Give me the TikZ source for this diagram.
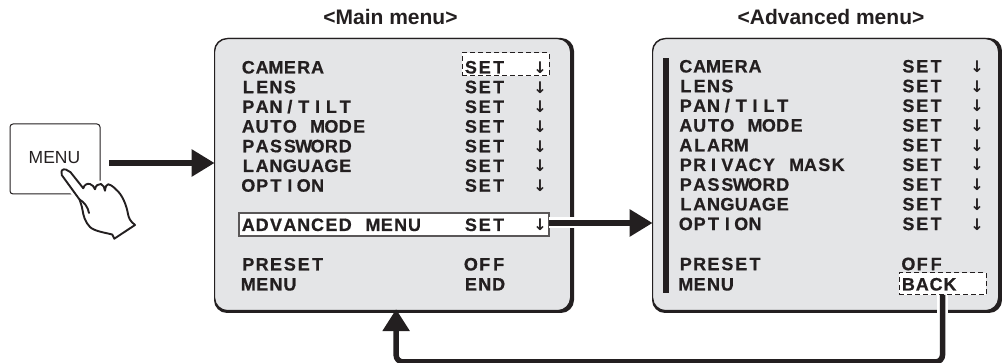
\documentclass[tikz,border=0pt]{standalone}
\usepackage{fontspec}
\setmainfont{Liberation Sans}
\newfontfamily\arrowfont{DejaVu Sans}
\usetikzlibrary{arrows.meta}
\definecolor{ink}{HTML}{231F20}
\definecolor{panelgray}{HTML}{E4E5E7}
\makeatletter
\newcommand\monotext[1]{\@tfor\mtk:=#1\do{\makebox[13.85pt][c]{\mtk}}}
\makeatother
\tikzset{
  panelbox/.style={draw=ink,line width=1.2pt,fill=panelgray,rounded corners=13pt,inner sep=0pt,outer sep=0pt,anchor=north west},
  rowtext/.style={anchor=base west,inner sep=0pt,outer sep=0pt,text=ink,font=\bfseries\addfontfeature{FakeBold=0.6}\fontsize{18}{18}\selectfont},
  downarrow/.style={anchor=base,inner sep=0pt,outer sep=0pt,text=ink,font=\arrowfont\bfseries\fontsize{16}{16}\selectfont},
  titletext/.style={anchor=base,inner sep=0pt,text=ink,font=\bfseries\fontsize{21}{21}\selectfont},
  dashbox/.style={draw=ink,line width=1pt,dash pattern=on 5pt off 3pt,fill=white,inner sep=0pt,outer sep=0pt,anchor=north west},
  solidbox/.style={draw=ink!75,line width=1.1pt,fill=white,inner sep=0pt,outer sep=0pt,anchor=north west},
  bigarrow/.style={draw=ink,line width=6pt,-{Triangle[length=23pt,width=26pt]}},
  halo/.style={draw=white,line width=11pt},
}
\newcommand\menurow[5]{\node[rowtext] (#1) at (#2+0.4,#3-0.5) {\monotext{#4}};\node[rowtext] (#1s) at (#2+223,#3-0.5) {\monotext{#5}};}
\newcommand\menuarrow[3]{\node[downarrow] (#1) at (#2,#3-0.5) {↓};}
\begin{document}
\begin{tikzpicture}[x=1pt,y=-1pt]
\useasboundingbox (0,0) rectangle (1002,363);
% panels
\fill[ink,rounded corners=13pt] (214,38) rectangle (574,313);
\node[panelbox,minimum width=356pt,minimum height=272pt] (mainp) at (214.6,38.6) {};
\fill[ink,rounded corners=13pt] (652,38) rectangle (1002,313);
\node[panelbox,minimum width=346pt,minimum height=272pt] (advp) at (652.6,38.6) {};
% titles
\node[titletext] (t1) at (390.5,25) {<Main menu>};
\node[titletext] (t2) at (831,25) {<Advanced menu>};
% highlight boxes
\node[dashbox,minimum width=87pt,minimum height=23pt] (setbox) at (462,53) {};
\node[solidbox,minimum width=310pt,minimum height=23pt] (advbox) at (239,213) {};
\node[dashbox,minimum width=87pt,minimum height=22pt] (backbox) at (899,273) {};
% bar
\fill[ink] (663,58) rectangle (668.5,293);
% main rows
\menurow{ma}{241}{74}{CAMERA}{SET}\menuarrow{maa}{540}{74}
\menurow{mb}{241}{93.7}{LENS}{SET}\menuarrow{mba}{540}{93.7}
\menurow{mc}{241}{113.4}{PAN/TILT}{SET}\menuarrow{mca}{540}{113.4}
\menurow{md}{241}{133.1}{AUTO~MODE}{SET}\menuarrow{mda}{540}{133.1}
\menurow{me}{241}{152.8}{PASSWORD}{SET}\menuarrow{mea}{540}{152.8}
\menurow{mf}{241}{172.5}{LANGUAGE}{SET}\menuarrow{mfa}{540}{172.5}
\menurow{mg}{241}{192.2}{OPTION}{SET}\menuarrow{mga}{540}{192.2}
\menurow{mh}{241}{231.5}{ADVANCED~MENU}{SET}\menuarrow{mha}{540}{231.5}
\menurow{mi}{241}{271}{PRESET}{OFF}
\menurow{mj}{241}{291}{MENU}{END}
% advanced rows
\menurow{aa}{678.5}{73}{CAMERA}{SET}\menuarrow{aaa}{977}{73}
\menurow{ab}{678.5}{92.7}{LENS}{SET}\menuarrow{aba}{977}{92.7}
\menurow{ac}{678.5}{112.4}{PAN/TILT}{SET}\menuarrow{aca}{977}{112.4}
\menurow{ad}{678.5}{132.1}{AUTO~MODE}{SET}\menuarrow{ada}{977}{132.1}
\menurow{ae}{678.5}{151.8}{ALARM}{SET}\menuarrow{aea}{977}{151.8}
\menurow{af}{678.5}{171.5}{PRIVACY~MASK}{SET}\menuarrow{afa}{977}{171.5}
\menurow{ag}{678.5}{191.2}{PASSWORD}{SET}\menuarrow{aga}{977}{191.2}
\menurow{ah}{678.5}{210.9}{LANGUAGE}{SET}\menuarrow{aha}{977}{210.9}
\menurow{ai}{678.5}{230.6}{OPTION}{SET}\menuarrow{aia}{977}{230.6}
\menurow{aj}{678.5}{270.7}{PRESET}{OFF}
\menurow{ak}{678.5}{291}{MENU}{BACK}
% button
\node[draw=ink,line width=1pt,rounded corners=3pt,minimum width=90pt,minimum height=70pt,inner sep=0pt,outer sep=0pt,anchor=north west] (btn) at (10,124) {};
\node[anchor=base,inner sep=0pt,text=ink,font=\fontsize{17.5}{17.5}\selectfont] (btnlabel) at (54.5,164) {MENU};
% hand
\def\handpath{(61.7,173.5) .. controls (60.5,170.5) and (63,168.6) .. (66,169.6)
  .. controls (68,170.2) and (69,170.6) .. (70.5,172.2) -- (83.3,188.3)
  .. controls (84,185) and (87,183.2) .. (90,184) .. controls (92.5,184.6) and (94,187) .. (95,189.3)
  .. controls (95.5,185.5) and (98.5,183.6) .. (101,184) .. controls (103.5,184.6) and (104.5,188) .. (105,190.7)
  .. controls (105.5,186.5) and (106.5,184.2) .. (108.3,184.3)
  .. controls (112,185) and (115,188.5) .. (118.3,191.7)
  .. controls (124,198) and (127,208) .. (128,214) .. controls (128.8,218) and (130,221) .. (135,225)
  -- (114.3,238.7) -- (112.3,234.5)
  .. controls (104,232.5) and (94,231) .. (90,227)
  .. controls (85,222) and (83.5,216) .. (82.5,210) .. controls (82,206) and (80.5,203) .. (79.5,199.5)
  -- (61.7,175) -- cycle}
\path[draw=white,line width=7pt,line join=round] \handpath;
\path[draw=ink,fill=white,line width=1.9pt,line join=round] \handpath;
\draw[ink,line width=1.9pt,line cap=round] (79.5,199.5) .. controls (84,202) and (88,207) .. (89,213);
% connectors
\coordinate (c1) at ([shift={(9,4)}]btn.east);
\draw[bigarrow] (c1) -- (c1 -| mainp.west);
\coordinate (c2) at ([yshift=1.5]advbox.east);
\draw[halo] (c2) -- ++(33,0);
\draw[bigarrow] (c2) -- (c2 -| advp.west);
\coordinate (c3) at ([xshift=3.5]mainp.south);
\draw[halo] (backbox.south) -- ++(0,21);
\draw[ink,line width=5.5pt,rounded corners=7pt,-{Triangle[length=22pt,width=26pt]}] (backbox.south) -- ++(0,67) -| ([yshift=1.5]c3);
\end{tikzpicture}
\end{document}
